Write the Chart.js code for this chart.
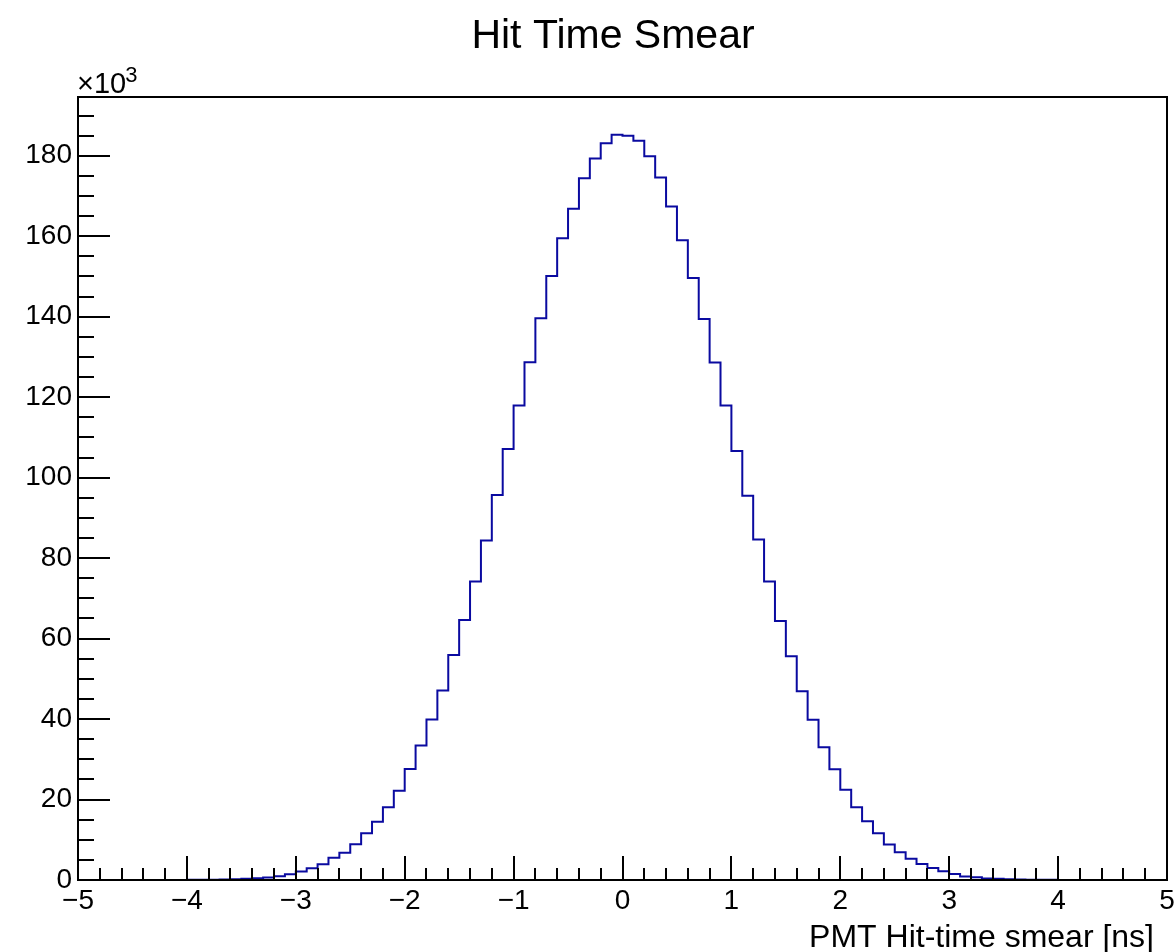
<!DOCTYPE html>
<html>
<head>
<meta charset="utf-8">
<script src="https://cdn.jsdelivr.net/npm/chart.js@4.4.1/dist/chart.umd.min.js"></script>
<style>
	html, body { margin: 0; padding: 0; background: #fff; }
	#wrap { width: 1176px; height: 952px; }
</style>
</head>
<body>
<div id="wrap"><canvas id="hitTimeChart" width="1176" height="952"></canvas></div>
<script>

// Histogram binning (ns)
const xMin = -5;
const xMax = 5;
const binWidth = 0.1;

// Bin contents, one entry per 0.1 ns bin from -5 to 5
const countsLeft = [
	0, 0, 0, 0, 2, 3, 5, 9, 15, 24,
	40, 60, 90, 140, 200, 300, 450, 650, 950, 1400,
	2100, 2900, 3900, 5500, 6800, 8900, 11600, 14500, 18100, 22200,
	27600, 33400, 39900, 47100, 55900, 64600, 74200, 84400, 95700, 107100,
	117900, 128700, 139600, 150100, 159500, 166800, 174400, 179300, 183100, 185200
];
const countsRight = [
	185000, 183700, 179900, 174600, 167400, 159000, 149600, 139400, 128600, 117900,
	106600, 95500, 84600, 74200, 64400, 55600, 46900, 39800, 33000, 27500,
	22400, 18100, 14600, 11600, 8800, 6900, 5300, 4000, 3000, 2200,
	1500, 900, 700, 400, 300, 200, 140, 90, 60, 40,
	25, 15, 10, 6, 4, 2, 1, 0, 0, 0
];
const counts = countsLeft.concat(countsRight);

// Axis ticks
const xMajorTicks = [-5, -4, -3, -2, -1, 0, 1, 2, 3, 4, 5];
const yMajorTicks = [0, 20000, 40000, 60000, 80000, 100000, 120000, 140000, 160000, 180000];
const yMax = 194600;

const titleText = "Hit Time Smear";
const xTitleText = "PMT Hit-time smear [ns]";

const FONT = "'Liberation Sans', Arial, Helvetica, sans-serif";

// Build step points: left edge of each bin, plus closing point at xMax
// (stepped 'before' in Chart.js keeps each value flat until the next point)
let points = [];
for (let i = 0; i < counts.length; i++) {
	points.push({ x: +(xMin + i * binWidth).toFixed(2), y: counts[i] });
}
points.push({ x: xMax, y: counts[counts.length - 1] });

/**
 * ROOT-like frame: box, inward ticks, titles and the x10^3 exponent
 */
const rootFramePlugin = {
	id: 'rootFrame',
	afterDraw(chart) {
		const ctx = chart.ctx;
		const xs = chart.scales.x;
		const ys = chart.scales.y;
		const area = chart.chartArea;

		ctx.save();
		ctx.strokeStyle = '#000';
		ctx.lineWidth = 2;

		// x ticks, pointing up from bottom axis
		ctx.beginPath();
		for (let i = 0; i <= 50; i++) {
			let val = xMin + i * 0.2;
			let px = Math.round(xs.getPixelForValue(val));
			let len = (i % 5 === 0) ? 24 : 12;
			ctx.moveTo(px, area.bottom);
			ctx.lineTo(px, area.bottom - len);
		}
		ctx.stroke();

		// y ticks, pointing right from left axis
		ctx.beginPath();
		for (let v = 0; v <= yMax; v += 5000) {
			let py = Math.round(ys.getPixelForValue(v));
			let len = (v % 20000 === 0) ? 32 : 16;
			ctx.moveTo(area.left, py);
			ctx.lineTo(area.left + len, py);
		}
		ctx.stroke();

		// frame
		ctx.strokeRect(area.left, area.top, area.right - area.left, area.bottom - area.top);

		ctx.fillStyle = '#000';
		ctx.textBaseline = 'alphabetic';

		// title
		ctx.textAlign = 'center';
		ctx.font = '41px ' + FONT;
		ctx.fillText(titleText, 613, 48);

		// x axis title
		ctx.textAlign = 'right';
		ctx.font = '32px ' + FONT;
		ctx.fillText(xTitleText, 1154, 947);

		// exponent label
		ctx.textAlign = 'left';
		ctx.font = '29px ' + FONT;
		ctx.fillText('\u00d710', 77, 93);
		let w = ctx.measureText('\u00d710').width;
		ctx.font = '22px ' + FONT;
		ctx.fillText('3', 76 + w, 82);

		ctx.restore();
	}
};

new Chart(document.getElementById('hitTimeChart'), {
	type: 'line',
	data: {
		datasets: [{
			label: 'hits',
			data: points,
			stepped: 'before',
			borderColor: '#0a0aa0',
			borderWidth: 2,
			pointRadius: 0,
			fill: false
		}]
	},
	options: {
		responsive: false,
		devicePixelRatio: 1,
		animation: false,
		layout: {
			padding: { left: 0, right: 9, top: 97, bottom: 0 }
		},
		plugins: {
			legend: { display: false },
			title: { display: false },
			tooltip: { enabled: false }
		},
		scales: {
			x: {
				type: 'linear',
				min: xMin,
				max: xMax,
				grid: { display: false, drawTicks: false },
				border: { display: false },
				afterBuildTicks: (scale) => {
					scale.ticks = xMajorTicks.map(v => ({ value: v }));
				},
				afterFit: (scale) => {
					scale.height = 72;
					scale.paddingRight = 0;
					scale.paddingLeft = 0;
				},
				ticks: {
					color: '#000',
					font: { family: FONT, size: 28 },
					padding: 4,
					maxRotation: 0,
					autoSkip: false,
					callback: (v) => String(v).replace('-', '\u2212')
				}
			},
			y: {
				type: 'linear',
				min: 0,
				max: yMax,
				grid: { display: false, drawTicks: false },
				border: { display: false },
				afterBuildTicks: (scale) => {
					scale.ticks = yMajorTicks.map(v => ({ value: v }));
				},
				afterFit: (scale) => {
					scale.width = 78;
					scale.paddingTop = 0;
					scale.paddingBottom = 0;
				},
				ticks: {
					color: '#000',
					font: { family: FONT, size: 28 },
					padding: 6,
					callback: (v) => String(v / 1000)
				}
			}
		}
	},
	plugins: [rootFramePlugin]
});
</script>
</body>
</html>
